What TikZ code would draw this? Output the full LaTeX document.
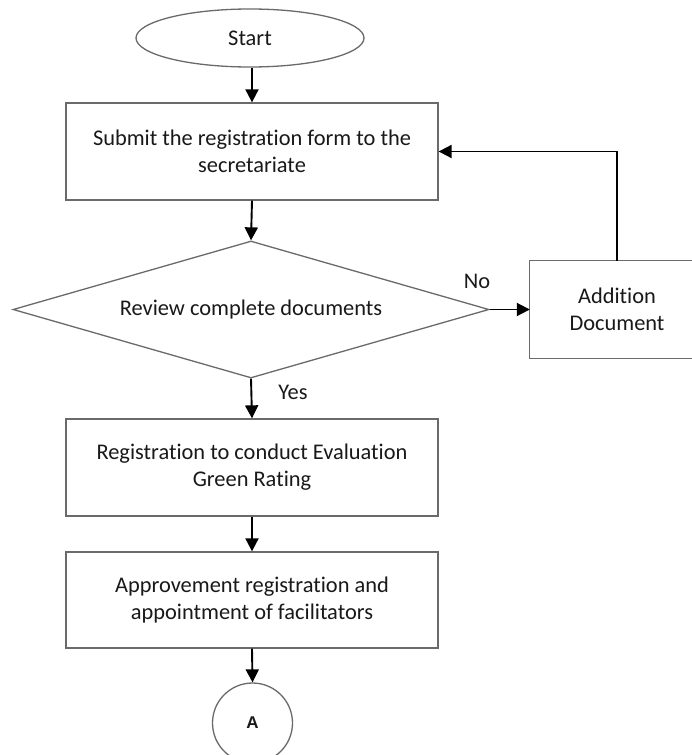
\documentclass[tikz,border=0pt]{standalone}
\usepackage{fontspec}
\setmainfont{Carlito}[Ligatures=NoCommon]
\newfontfamily\arialfont{Liberation Sans}
\usetikzlibrary{shapes.geometric,arrows.meta}
\definecolor{edgegray}{HTML}{6A6A6A}
\begin{document}
\begin{tikzpicture}[x=1pt,y=-1pt,
  every node/.style={font=\fontsize{22.4}{26.8}\selectfont, text=black!90, inner sep=0pt, align=center},
  boxnode/.style={draw=edgegray, line width=1.3pt, rectangle, minimum width=372pt, minimum height=97pt},
  arr/.style={draw=black, line width=1.9pt, -{Triangle[length=13pt,width=13pt]}}]
\useasboundingbox[fill=white] (0,0) rectangle (691,755);
\node[draw=edgegray, line width=1.3pt, ellipse, minimum width=228pt, minimum height=58pt] (start) at (250,38) {Start};
\node[boxnode] (submit) at (252,151.5) {Submit the registration form to the\\secretariate};
\node[draw=edgegray, line width=1.3pt, diamond, shape aspect=3.47, minimum width=476pt, minimum height=137pt] (review) at (251,309.5) {Review complete documents};
\node[rectangle, minimum width=174pt, minimum height=97pt] (add) at (617,309.5) {Addition\\Document};
\draw[edgegray, line width=1.3pt] (add.north west) rectangle ([xshift=40pt]add.south east);
\node[boxnode] (regist) at (252,467.5) {Registration to conduct Evaluation\\Green Rating};
\node[boxnode, minimum height=96pt] (approve) at (252,600) {Approvement registration and\\appointment of facilitators};
\node[draw=edgegray, line width=1.3pt, circle, minimum size=80pt, font=\arialfont\bfseries\fontsize{17}{20}\selectfont] (a) at (252.5,723) {A};
\node (no) at (477,281) {No};
\node (yes) at (293,392) {Yes};
\draw[arr] (start.south -| submit.north) -- (submit.north);
\draw[arr] (submit.south) -- (review.north);
\draw[arr] (review.east) -- (add.west);
\draw[arr] (add.north) |- (submit.east);
\draw[arr] (review.south) -- (regist.north);
\draw[arr] (regist.south) -- (approve.north);
\draw[arr] (approve.south) -- (a.north);
\end{tikzpicture}
\end{document}
